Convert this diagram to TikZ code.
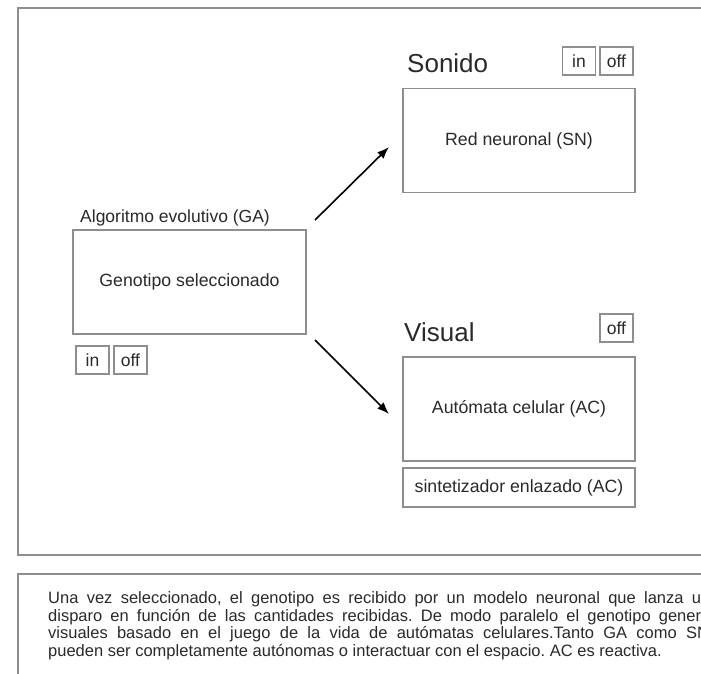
\documentclass[tikz,border=0pt]{standalone}
\usepackage{fontspec}
\setmainfont{Liberation Sans}
\usetikzlibrary{arrows.meta}
\definecolor{frame}{HTML}{8E8E8E}
\definecolor{ink}{HTML}{2A2A2A}
\hbadness=10000
\frenchspacing

\begin{document}
\begin{tikzpicture}[x=1pt,y=-1pt,
  panel/.style={draw=frame, line width=1.6pt},
  unitbox/.style={draw=frame, line width=1.8pt, fill=white, text=ink,
    font=\fontsize{17.7}{20}\selectfont, inner sep=0pt,
    minimum width=232pt, minimum height=104pt},
  toggle/.style={draw=frame, line width=1.5pt, text=ink,
    font=\fontsize{17.5}{20}\selectfont, inner sep=0pt,
    minimum width=33pt, minimum height=28pt},
  heading/.style={text=ink, font=\fontsize{26}{30}\selectfont,
    inner sep=0pt, anchor=base west},
  caption/.style={text=ink, font=\fontsize{17.5}{20}\selectfont,
    inner sep=0pt, anchor=base west},
  para/.style={text=ink, font=\fontsize{16.5}{17.5}\selectfont,
    inner sep=0pt, anchor=base west},
  flow/.style={-{Latex[length=12pt,width=9pt]}, line width=1.6pt, black}
]
\useasboundingbox (0,0) rectangle (701,673);
\clip (0,0) rectangle (701,673);
\fill[white] (0,0) rectangle (701,673);

% outer panels
\draw[panel] (18,8) rectangle (740,555);
\draw[panel] (18,574) rectangle (740,700);

% genetic algorithm block
\node[caption] (gatitle) at (80,222) {Algoritmo evolutivo (GA)};
\node[unitbox, minimum width=233pt] (geno) at (189.5,282) {Genotipo seleccionado};
\node[toggle] (gain) at (92.5,360) {in};
\node[toggle] (gaoff) at (130.5,360) {off};

% sound block
\node[heading] (sndtitle) at (407,72) {Sonido};
\node[toggle] (sndin) at (579,61) {in};
\node[toggle] (sndoff) at (616.5,61) {off};
\node[unitbox] (snd) at (519,140.5) {Red neuronal (SN)};

% visual block
\node[heading] (vistitle) at (404,341.5) {Visual};
\node[toggle] (visoff) at (616.5,328) {off};
\node[unitbox] (vis) at (519,409) {Autómata celular (AC)};
\node[unitbox, minimum height=39pt] (synth) at (519,487.5) {sintetizador enlazado (AC)};

% connectors
\coordinate (upfrom) at (315,220);
\coordinate (upto) at (389,147);
\coordinate (downfrom) at (315,340);
\coordinate (downto) at (389,414);
\draw[flow] (upfrom) -- (upto);
\draw[flow] (downfrom) -- (downto);

% description, justified lines running past the right edge
\node[para] (l1) at (48,603.5) {\makebox[653pt][s]{Una vez seleccionado, el genotipo es recibido por un modelo neuronal que lanza u}};
\node[para] (l2) at (48,621) {\makebox[653pt][s]{disparo en función de las cantidades recibidas. De modo paralelo el genotipo gener}};
\node[para] (l3) at (48,638.5) {\makebox[649pt][s]{visuales basado en el juego de la vida de autómatas celulares.Tanto GA como S\rlap{N}}};
\node[para] (l4) at (48,656) {pueden ser completamente autónomas o interactuar con el espacio. AC es reactiva.};
\end{tikzpicture}
\end{document}
